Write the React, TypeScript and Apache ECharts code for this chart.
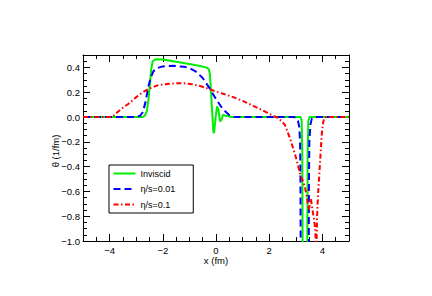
import React, { useEffect, useRef } from "react";
import * as echarts from "echarts";

const inviscidX = [-5, -2.75, -2.68, -2.6, -2.54, -2.48, -2.44, -2.38, -2.3, -2.22, -2.0, -1.5, -1.0, -0.6, -0.35, -0.27, -0.225, -0.16, -0.1, -0.075, -0.04, -0.01, 0.04, 0.09, 0.15, 0.21, 0.27, 0.34, 0.46, 0.55, 3.18, 3.22, 3.245, 3.26, 3.43, 3.445, 3.47, 3.52, 5];
const inviscidY = [0, 0, 0.01, 0.045, 0.14, 0.275, 0.38, 0.45, 0.462, 0.466, 0.463, 0.445, 0.428, 0.412, 0.398, 0.385, 0.34, 0.1, -0.117, -0.13, -0.06, 0.005, 0.086, 0.06, -0.035, -0.02, 0.02, 0.01, 0.01, 0, 0, -0.03, -0.3, -1.3, -1.3, -0.3, -0.03, 0, 0];

const eta001X = [-5, -3.0, -2.85, -2.75, -2.65, -2.55, -2.45, -2.35, -2.2, -2.0, -1.6, -1.2, -1.0, -0.75, -0.5, -0.25, 0.0, 0.25, 0.5, 0.7, 2.9, 3.0, 3.08, 3.13, 3.16, 3.175, 3.185, 3.485, 3.495, 3.51, 3.55, 3.6, 3.7, 5];
const eta001Y = [0, 0, 0.01, 0.04, 0.12, 0.24, 0.32, 0.37, 0.395, 0.408, 0.413, 0.405, 0.395, 0.365, 0.315, 0.235, 0.145, 0.065, 0.015, 0, 0, -0.005, -0.03, -0.08, -0.2, -0.5, -1.3, -1.3, -0.5, -0.2, -0.06, -0.015, 0, 0];

const eta01X = [-5, -4.0, -3.85, -3.7, -3.5, -3.3, -3.0, -2.75, -2.5, -2.2, -1.9, -1.5, -1.2, -0.9, -0.6, -0.3, 0.0, 0.3, 0.65, 1.0, 1.3, 1.6, 1.9, 2.1, 2.3, 2.45, 2.59, 2.71, 2.84, 3.03, 3.15, 3.34, 3.4, 3.49, 3.53, 3.57, 3.62, 3.68, 3.73, 3.77, 3.795, 3.8, 3.84, 3.88, 3.94, 3.99, 4.06, 4.15, 5];
const eta01Y = [0, 0, 0.01, 0.04, 0.075, 0.105, 0.16, 0.2, 0.23, 0.255, 0.265, 0.272, 0.272, 0.265, 0.25, 0.23, 0.205, 0.185, 0.16, 0.13, 0.1, 0.07, 0.037, 0.015, -0.005, -0.03, -0.063, -0.13, -0.21, -0.345, -0.45, -0.56, -0.63, -0.75, -0.7, -0.66, -0.74, -0.82, -0.9, -1.1, -1.1, -0.8, -0.61, -0.48, -0.26, -0.1, -0.008, 0, 0];

const seriesNames = ["Inviscid", "η/s=0.01", "η/s=0.1"];
const xMajorTicks = [-4, -2, 0, 2, 4];
const yMajorTicks = [-1, -0.8, -0.6, -0.4, -0.2, 0, 0.2, 0.4];
const xTitle = "x (fm)";
const yTitle = "θ (1/fm)";

const FONT = "Liberation Sans, Arial, Helvetica, sans-serif";

function minorValues(min: number, max: number, step: number, majors: number[]) {
  const out: number[] = [];
  const n = Math.round((max - min) / step);
  for (let i = 0; i <= n; i++) {
    const v = Math.round((min + i * step) * 1000) / 1000;
    if (!majors.some((m) => Math.abs(m - v) < 1e-6)) out.push(v);
  }
  return out;
}

const fmt = (v: number, digits: number) => (v < -1e-9 ? "\u2212" : "") + Math.abs(v).toFixed(digits);

export default function App() {
  const ref = useRef<HTMLDivElement>(null);
  useEffect(() => {
    if (!ref.current) return;
    const chart = echarts.init(ref.current, undefined, { renderer: "svg" });
    const xMinor = minorValues(-5, 5, 0.5, xMajorTicks);
    const yMinor = minorValues(-1, 0.5, 0.05, yMajorTicks);
    const lineOn = { show: true, onZero: false, lineStyle: { color: "#000", width: 1 } };
    const lineOff = { show: false, onZero: false };
    const baseX = (position: string, ticks: number[], len: number, showLine: boolean, labels: boolean) => ({
      type: "value",
      min: -5,
      max: 5,
      position,
      gridIndex: 0,
      axisLine: showLine ? lineOn : lineOff,
      axisTick: { show: true, inside: true, length: len, customValues: ticks, lineStyle: { color: "#000", width: 1 } },
      axisLabel: labels
        ? { show: true, customValues: ticks, formatter: (v: number) => fmt(v, 0), fontSize: 9.5, fontFamily: FONT, color: "#000", margin: 4 }
        : { show: false },
      splitLine: { show: false },
    });
    const baseY = (position: string, ticks: number[], len: number, showLine: boolean, labels: boolean) => ({
      type: "value",
      min: -1,
      max: 0.5,
      position,
      gridIndex: 0,
      axisLine: showLine ? lineOn : lineOff,
      axisTick: { show: true, inside: true, length: len, customValues: ticks, lineStyle: { color: "#000", width: 1 } },
      axisLabel: labels
        ? { show: true, customValues: ticks, formatter: (v: number) => fmt(v, 1), fontSize: 9.5, fontFamily: FONT, color: "#000", margin: 3 }
        : { show: false },
      splitLine: { show: false },
    });
    const pairs = (xs: number[], ys: number[]) => xs.map((x, i) => [x, ys[i]]);
    chart.setOption({
      animation: false,
      backgroundColor: "#fff",
      grid: { left: 83, top: 55, width: 266, height: 186, containLabel: false },
      xAxis: [
        baseX("bottom", xMajorTicks, 7, true, true),
        baseX("bottom", xMinor, 4, false, false),
        baseX("top", xMajorTicks, 7, true, false),
        baseX("top", xMinor, 4, false, false),
      ],
      yAxis: [
        baseY("left", yMajorTicks, 7, true, true),
        baseY("left", yMinor, 4, false, false),
        baseY("right", yMajorTicks, 7, true, false),
        baseY("right", yMinor, 4, false, false),
      ],
      graphic: [
        {
          type: "text",
          x: 216,
          y: 260,
          style: { text: xTitle, align: "center", verticalAlign: "middle", fontSize: 9.5, fontFamily: FONT, fill: "#000" },
        },
        {
          type: "text",
          x: 55,
          y: 151,
          rotation: Math.PI / 2,
          style: { text: yTitle, align: "center", verticalAlign: "middle", fontSize: 9.5, fontFamily: FONT, fill: "#000" },
        },
      ],
      legend: {
        orient: "vertical",
        left: 109,
        top: 165,
        data: seriesNames,
        itemWidth: 22,
        itemHeight: 10,
        itemGap: 6.5,
        padding: [4, 18, 4, 3.5],
        borderColor: "#000",
        borderWidth: 1,
        borderRadius: 0,
        backgroundColor: "#fff",
        itemStyle: { opacity: 0 },
        textStyle: { fontSize: 9, fontFamily: FONT, color: "#000" },
      },
      series: [
        {
          name: seriesNames[0],
          type: "line",
          data: pairs(inviscidX, inviscidY),
          symbol: "none",
          clip: true,
          lineStyle: { color: "#00ee00", width: 2 },
          itemStyle: { color: "#00ee00" },
          z: 3,
        },
        {
          name: seriesNames[1],
          type: "line",
          data: pairs(eta001X, eta001Y),
          symbol: "none",
          clip: true,
          lineStyle: { color: "#0000ff", width: 2, type: [7, 4] },
          itemStyle: { color: "#0000ff" },
          z: 4,
        },
        {
          name: seriesNames[2],
          type: "line",
          data: pairs(eta01X, eta01Y),
          symbol: "none",
          clip: true,
          lineStyle: { color: "#ff0000", width: 2, type: [5, 2.5, 1.5, 2.5] },
          itemStyle: { color: "#ff0000" },
          z: 5,
        },
      ],
    });
    return () => chart.dispose();
  }, []);
  return <div ref={ref} style={{ position: "fixed", left: 0, top: 0, width: 432, height: 296 }} />;
}
